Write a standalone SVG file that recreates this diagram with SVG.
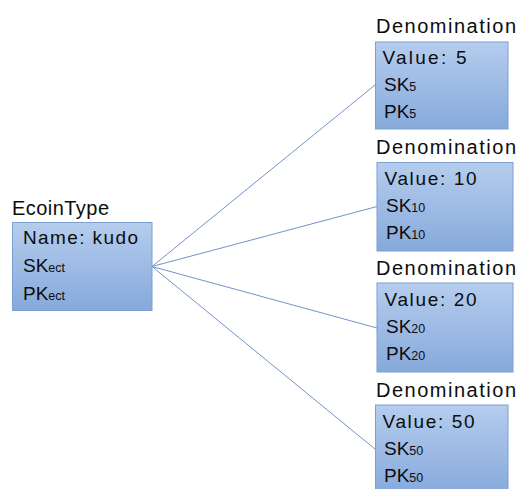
<svg xmlns="http://www.w3.org/2000/svg" width="518" height="489" viewBox="0 0 518 489">
<defs>
<linearGradient id="g" x1="0" y1="0" x2="0" y2="1">
<stop offset="0" stop-color="#b5cdee"/>
<stop offset="1" stop-color="#86a9db"/>
</linearGradient>
</defs>
<style>
.box{fill:url(#g);stroke:#7d9fd0;stroke-width:1}
.t{font-family:"Liberation Sans",Arial,sans-serif;font-size:19px;fill:#0d0d0d}
.h{font-family:"Liberation Sans",Arial,sans-serif;font-size:20px;fill:#0d0d0d}
.s{font-size:12.5px}
.c{stroke:#7393ca;stroke-width:1;fill:none}
</style>
<rect width="518" height="489" fill="#fff"/>
<g id="connectors">
<line class="c" x1="152" y1="266.5" x2="375" y2="85"/>
<line class="c" x1="152" y1="266.5" x2="377" y2="206.5"/>
<line class="c" x1="152" y1="266.5" x2="377" y2="328"/>
<line class="c" x1="152" y1="266.5" x2="375" y2="449"/>
</g>
<g id="ecointype">
<text class="h" x="12" y="215" textLength="97" lengthAdjust="spacing">EcoinType</text>
<rect class="box" x="12.5" y="222.5" width="139.5" height="88"/>
<text class="t" x="23" y="244" textLength="115" lengthAdjust="spacing">Name: kudo</text>
<text class="t" x="23" y="272">SK<tspan class="s">ect</tspan></text>
<text class="t" x="23" y="299.5">PK<tspan class="s">ect</tspan></text>
</g>
<g id="denom5">
<text class="h" x="376" y="33" textLength="140" lengthAdjust="spacing">Denomination</text>
<rect class="box" x="375.5" y="42" width="132.5" height="87"/>
<text class="t" x="382.5" y="64" textLength="84" lengthAdjust="spacing">Value: 5</text>
<text class="t" x="384" y="91">SK<tspan class="s">5</tspan></text>
<text class="t" x="384" y="118">PK<tspan class="s">5</tspan></text>
</g>
<g id="denom10">
<text class="h" x="376" y="154" textLength="140" lengthAdjust="spacing">Denomination</text>
<rect class="box" x="377" y="162.5" width="136" height="88.5"/>
<text class="t" x="384.5" y="185" textLength="92" lengthAdjust="spacing">Value: 10</text>
<text class="t" x="386" y="212">SK<tspan class="s">10</tspan></text>
<text class="t" x="386" y="239">PK<tspan class="s">10</tspan></text>
</g>
<g id="denom20">
<text class="h" x="376" y="275" textLength="140" lengthAdjust="spacing">Denomination</text>
<rect class="box" x="377" y="283" width="136" height="89"/>
<text class="t" x="384.5" y="306" textLength="92" lengthAdjust="spacing">Value: 20</text>
<text class="t" x="386" y="333">SK<tspan class="s">20</tspan></text>
<text class="t" x="386" y="360">PK<tspan class="s">20</tspan></text>
</g>
<g id="denom50">
<text class="h" x="376" y="397" textLength="140" lengthAdjust="spacing">Denomination</text>
<rect class="box" x="375.5" y="405" width="132.5" height="90"/>
<text class="t" x="382.5" y="428" textLength="92" lengthAdjust="spacing">Value: 50</text>
<text class="t" x="384" y="455">SK<tspan class="s">50</tspan></text>
<text class="t" x="384" y="482">PK<tspan class="s">50</tspan></text>
</g>
</svg>
